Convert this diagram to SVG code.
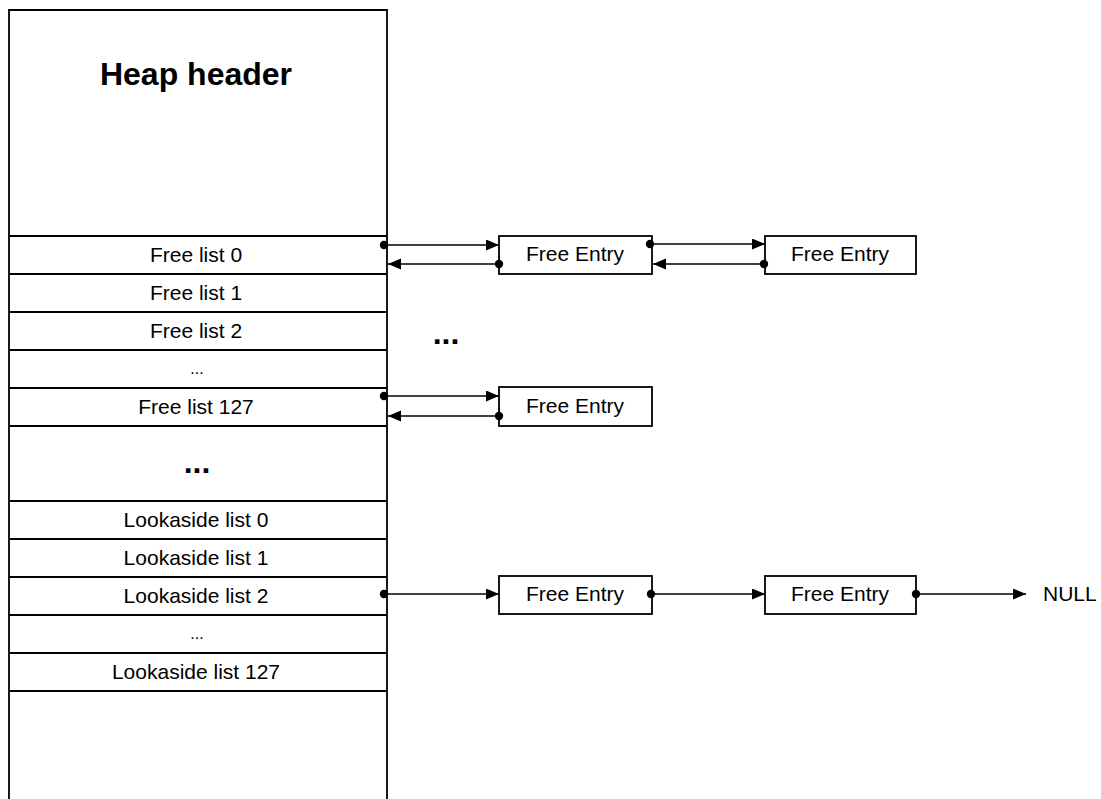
<svg xmlns="http://www.w3.org/2000/svg" width="1101" height="799" viewBox="0 0 1101 799">
<defs>
<style>
.ln{stroke:#000;stroke-width:1.8;fill:none}
.box{stroke:#000;stroke-width:1.8;fill:#fff}
.t{font-family:"Liberation Sans",Arial,sans-serif;font-size:21px;fill:#000;text-anchor:middle}
.h{font-family:"Liberation Sans",Arial,sans-serif;font-size:32px;font-weight:bold;fill:#000;text-anchor:middle}
.c{stroke:#000;stroke-width:1.6;fill:none;marker-start:url(#dot);marker-end:url(#arr)}
</style>
<marker id="arr" markerUnits="userSpaceOnUse" markerWidth="14" markerHeight="12" refX="13" refY="5.5" orient="auto">
<path d="M0,0 L13,5.5 L0,11 Z" fill="#000"/>
</marker>
<marker id="dot" markerUnits="userSpaceOnUse" markerWidth="10" markerHeight="10" refX="5" refY="5" orient="auto">
<circle cx="5" cy="5" r="4.2" fill="#000"/>
</marker>
</defs>
<rect width="1101" height="799" fill="#fff"/>
<g id="heap">
<path class="ln" d="M9,799 V10 H387 V799"/>
<text class="h" x="196" y="85">Heap header</text>
</g>
<g id="rows">
<path class="ln" d="M9,236 H387 M9,274 H387 M9,312 H387 M9,350 H387 M9,388 H387 M9,426 H387 M9,501 H387 M9,539 H387 M9,577 H387 M9,615 H387 M9,653 H387 M9,691 H387"/>
<text class="t" x="196" y="262">Free list 0</text>
<text class="t" x="196" y="300">Free list 1</text>
<text class="t" x="196" y="338">Free list 2</text>
<text class="t" x="197" y="374" style="font-size:16px">...</text>
<text class="t" x="196" y="414">Free list 127</text>
<text class="h" x="197" y="473">...</text>
<text class="t" x="196" y="527">Lookaside list 0</text>
<text class="t" x="196" y="565">Lookaside list 1</text>
<text class="t" x="196" y="603">Lookaside list 2</text>
<text class="t" x="197" y="639" style="font-size:16px">...</text>
<text class="t" x="196" y="679">Lookaside list 127</text>
</g>
<g id="fe0a">
<rect class="box" x="499" y="236" width="153" height="38"/>
<text class="t" x="575" y="261">Free Entry</text>
</g>
<g id="fe0b">
<rect class="box" x="765" y="236" width="151" height="38"/>
<text class="t" x="840" y="261">Free Entry</text>
</g>
<g id="fe127">
<rect class="box" x="499" y="387" width="153" height="39"/>
<text class="t" x="575" y="413">Free Entry</text>
</g>
<g id="la2a">
<rect class="box" x="499" y="576" width="153" height="38"/>
<text class="t" x="575" y="601">Free Entry</text>
</g>
<g id="la2b">
<rect class="box" x="765" y="576" width="151" height="38"/>
<text class="t" x="840" y="601">Free Entry</text>
</g>
<text class="h" x="446" y="344">...</text>
<text class="t" x="1043" y="601" style="text-anchor:start">NULL</text>
<g id="connectors">
<line class="c" x1="384" y1="245" x2="499" y2="245"/>
<line class="c" x1="499" y1="264" x2="388" y2="264"/>
<line class="c" x1="650" y1="244" x2="765" y2="244"/>
<line class="c" x1="764" y1="264" x2="653" y2="264"/>
<line class="c" x1="384" y1="396" x2="499" y2="396"/>
<line class="c" x1="499" y1="416" x2="388" y2="416"/>
<line class="c" x1="384" y1="594" x2="499" y2="594"/>
<line class="c" x1="651" y1="594" x2="765" y2="594"/>
<line class="c" x1="916" y1="594" x2="1026" y2="594"/>
</g>
</svg>
